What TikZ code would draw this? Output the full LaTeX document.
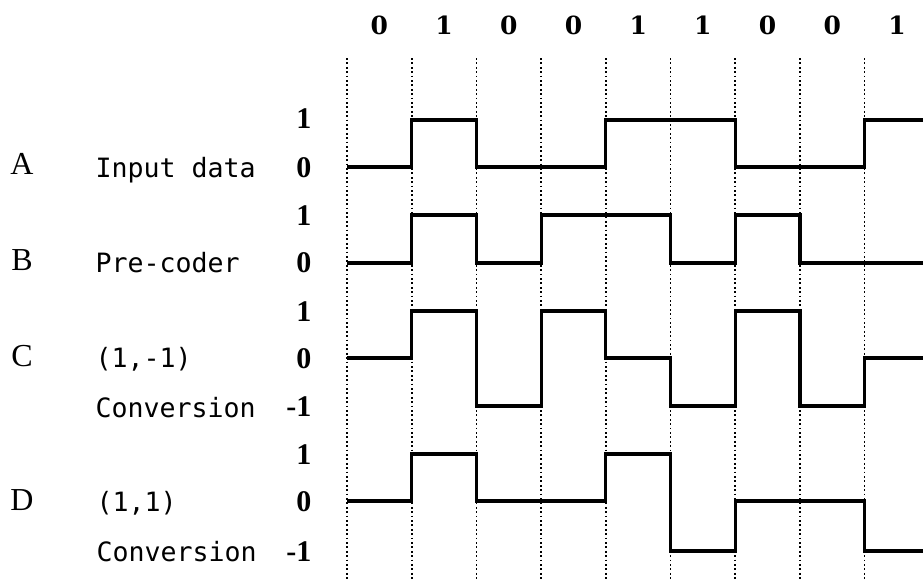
\documentclass[tikz,border=0pt]{standalone}
\usepackage{fontspec}
\setmainfont{Liberation Serif}
\setmonofont{DejaVu Sans Mono}
\newfontfamily\bitfont{DejaVu Serif}
\usepackage{tikz}

\begin{document}
\begin{tikzpicture}[x=0.5pt,y=-0.5pt,semithick]
  \tikzstyle{bit}=[font=\fontsize{12.5}{15}\selectfont\bitfont\bfseries,inner sep=0pt]
  \tikzstyle{row}=[font=\fontsize{16}{18}\selectfont,anchor=base,inner sep=0pt]
  \tikzstyle{desc}=[font=\fontsize{13.3}{15}\selectfont\ttfamily,anchor=base west,inner sep=0pt]
  \tikzstyle{lvl}=[font=\fontsize{15}{16}\selectfont\bfseries,anchor=base east,inner sep=0pt]
  \tikzstyle{grid}=[line width=0.8pt,dash pattern=on 0.9pt off 1.3pt]
  \tikzstyle{wave}=[line width=1.6pt,line join=miter]

  \useasboundingbox (0,0) rectangle (923,580);

  % bit slots and the bits on top
  \foreach \i in {0,...,8}
    \draw[grid] (347+64.7*\i,58) -- (347+64.7*\i,580);
  \foreach \b [count=\i from 0] in {0,1,0,0,1,1,0,0,1}
    \node[bit] (bit\i) at (379.4+64.7*\i,25) {\b};

  % signal names
  \node[row]  (A)    at (22,174) {A};
  \node[row]  (B)    at (22,270) {B};
  \node[row]  (C)    at (22,366) {C};
  \node[row]  (D)    at (22,510) {D};
  \node[desc] (inA)  at (95,177) {Input data};
  \node[desc] (preB) at (95,272) {Pre-coder};
  \node[desc] (pmC)  at (95,367) {(1,-1)};
  \node[desc] (cvC)  at (95,417) {Conversion};
  \node[desc] (ppD)  at (96,511) {(1,1)};
  \node[desc] (cvD)  at (96,561) {Conversion};

  % levels
  \foreach \y/\v in {128/1,177/0,225/1,272/0,321/1,368/0,416/-1,464/1,511/0,561/-1}
    \node[lvl] (lv\y) at (312,\y) {\v};

  % A: input data
  \draw[wave] (347,167) -- (411.7,167) -- (411.7,120) -- (476.4,120) -- (476.4,167)
    -- (605.8,167) -- (605.8,120) -- (735.2,120) -- (735.2,167) -- (864.6,167)
    -- (864.6,120) -- (923,120);
  % B: pre-coder
  \draw[wave] (347,263) -- (411.7,263) -- (411.7,215) -- (476.4,215) -- (476.4,263)
    -- (541.1,263) -- (541.1,215) -- (670.5,215) -- (670.5,263) -- (735.2,263)
    -- (735.2,215) -- (799.9,215) -- (799.9,263) -- (923,263);
  % C: (1,-1) conversion
  \draw[wave] (347,358) -- (411.7,358) -- (411.7,311) -- (476.4,311) -- (476.4,406)
    -- (541.1,406) -- (541.1,311) -- (605.8,311) -- (605.8,358) -- (670.5,358)
    -- (670.5,406) -- (735.2,406) -- (735.2,311) -- (799.9,311) -- (799.9,406)
    -- (864.6,406) -- (864.6,358) -- (923,358);
  % D: (1,1) conversion
  \draw[wave] (347,501) -- (411.7,501) -- (411.7,454) -- (476.4,454) -- (476.4,501)
    -- (605.8,501) -- (605.8,454) -- (670.5,454) -- (670.5,551) -- (735.2,551)
    -- (735.2,501) -- (864.6,501) -- (864.6,551) -- (923,551);
\end{tikzpicture}
\end{document}
